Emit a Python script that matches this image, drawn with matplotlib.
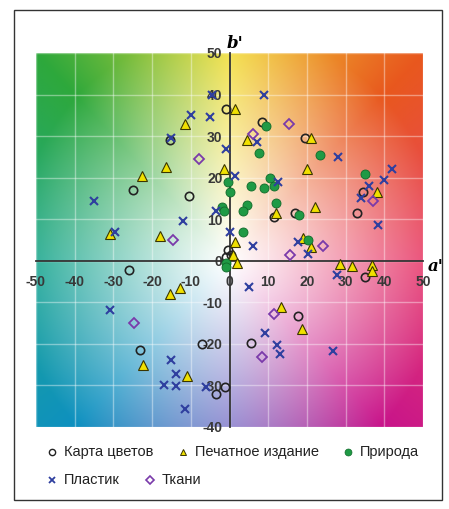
import numpy as np
import matplotlib.pyplot as plt
from matplotlib.colors import to_rgb
from matplotlib.patches import Rectangle

plt.rcParams['font.family'] = ['Liberation Sans', 'DejaVu Sans']
plt.rcParams['axes.unicode_minus'] = False

# Карта цветов (open circles)
chart_a = [-15.5, -25, -10.5, -1, 8.5, 19.5, 11.5, 17, 34.5, 33, -0.5, -1, 0.5,
           35, -26, 17.7, 5.6, -1.2, -3.6, -7, -23]
chart_b = [29, 17, 15.5, 36.5, 33.5, 29.5, 10.5, 11.5, 16.5, 11.5, 2.5, 1, 1.5,
           -3.8, -2.2, -13.2, -19.8, -30.4, -32, -20, -21.4]

# Печатное издание (yellow triangles)
print_a = [-11.5, -16.5, -22.5, -31, -18, 1.5, -1.5, 1.5, 4.5, 21, 20, 12, 22, 19, 21,
           38, 0.8, 2, 28.5, 31.7, 36.7, 36.7, 13.4, 18.8, -12.9, -15.4, -22.3, -10.9]
print_b = [33, 22.5, 20.5, 6.5, 6, 36.5, 22, 4.5, 29, 29.5, 22, 11.5, 13, 5.4, 3.4,
           16.5, 1.5, -0.5, -0.7, -1.2, -1, -2.4, -11.2, -16.4, -6.6, -8, -25.2, -27.8]

# Природа (green dots)
nature_a = [-0.5, 0, -2, -1.5, 3.5, 4.5, 3.5, 5.5, 9, 10.5, 11.5, 12, 7.5, 9.5,
            18, 20.3, 23.5, 35, -1, -0.8]
nature_b = [19, 16.5, 13, 12, 7, 13.5, 12, 18, 17.5, 20, 18, 14, 26, 32.5,
            11, 5, 25.5, 21, -0.5, -1.5]

# Пластик (crosses)
plastic_a = [-10, -15, -35, -12, -29.5, -4.5, -5, 9, -1, 1.5, -3.5, 0, 6, 12.5, 7,
             17.7, 20.3, 28, 42, 40, 36, 34, 38.5, 27.8, 26.7, 5, 9.3, 12.3, 13,
             -6.2, -31, -15, -13.7, -17, -13.8, -11.5]
plastic_b = [35, 29.5, 14.5, 9.5, 7, 40, 34.5, 40, 27, 20.5, 12, 7, 3.5, 19, 28.5,
             4.4, 1.7, 25, 22, 19.5, 18, 15, 8.5, -3.5, -21.6, -6.3, -17.4, -20.2, -22.4,
             -30.4, -11.8, -23.8, -27.2, -29.8, -30.2, -35.6]

# Ткани (open diamonds)
fabric_a = [-8, -14.5, 6, 15.5, 24.2, 15.6, 37, 11.6, 8.3, -24.7]
fabric_b = [24.5, 5, 30.5, 33, 3.6, 1.3, 14.5, -12.7, -23.2, -15]

labels = ['Карта цветов', 'Печатное издание', 'Природа', 'Пластик', 'Ткани']

fig = plt.figure(figsize=(4.49, 5.09), dpi=100)
ax = fig.add_axes([36 / 449, 1 - 427 / 509, 387 / 449, 374 / 509])

# background a'b' colour plane
aa, bb = np.meshgrid(np.linspace(-50, 50, 400), np.linspace(-40, 50, 360))
ang = np.degrees(np.arctan2(bb, aa)) % 360
hue_deg = [0, 45, 90, 135, 180, 225, 270, 315, 360]
hue_cols = np.array([to_rgb(c) for c in ['#e8406e', '#e8581e', '#f2de3a', '#2ea83c',
                                         '#1ea890', '#0e90c0', '#6a60c0', '#c8148a',
                                         '#e8406e']])
rgb = np.stack([np.interp(ang, hue_deg, hue_cols[:, k]) for k in range(3)], axis=-1)
t = np.clip(np.hypot(aa, bb) / 56, 0, 1) ** 1.1
img = 1 - t[..., None] * (1 - rgb)
ax.imshow(img, extent=(-50, 50, -40, 50), origin='lower', aspect='auto', zorder=0)

ax.set_xlim(-50, 50)
ax.set_ylim(-40, 50)
ax.set_xticks(range(-50, 51, 10))
ax.set_yticks(range(-40, 51, 10))
ax.set_axisbelow(True)
ax.grid(color='white', alpha=0.4, lw=1)

for s in ['top', 'right']:
    ax.spines[s].set_visible(False)
ax.spines['left'].set_position(('data', 0))
ax.spines['bottom'].set_position(('data', 0))
for s in ['left', 'bottom']:
    ax.spines[s].set_color('#333333')
    ax.spines[s].set_linewidth(1.3)
    ax.spines[s].set_zorder(1)
ax.tick_params(axis='x', length=0, pad=10, labelsize=10, labelcolor='#383838')
ax.tick_params(axis='y', length=0, pad=5, labelsize=10, labelcolor='#383838')
for lbl in ax.get_xticklabels() + ax.get_yticklabels():
    lbl.set_fontweight('bold')

ax.plot(chart_a, chart_b, 'o', ms=6, mfc='none', mec='#222222', mew=1.2, zorder=3)
ax.plot(print_a, print_b, '^', ms=7, mfc='#f0e000', mec='#3a3500', mew=0.8, zorder=3)
ax.plot(nature_a, nature_b, 'o', ms=6.5, mfc='#1f9a45', mec='#106a2a', mew=0.6, zorder=3)
ax.plot(plastic_a, plastic_b, 'x', ms=6, mec='#2f3f9f', mew=1.5, zorder=3)
ax.plot(fabric_a, fabric_b, 'D', ms=5.5, mfc='none', mec='#7a3aaa', mew=1.3, zorder=3)

ax.text(53.2, -1.3, "a'", fontsize=12, fontweight='bold', fontstyle='italic',
        family='DejaVu Serif', ha='center', va='center', clip_on=False)
ax.text(1.5, 52.3, "b'", fontsize=12, fontweight='bold', fontstyle='italic',
        family='DejaVu Serif', ha='center', va='center', clip_on=False)

# legend drawn manually in pixel space
lg = fig.add_axes([0, 0, 1, 1], frameon=False)
lg.set_xlim(0, 449)
lg.set_ylim(509, 0)
lg.axis('off')
styles = [dict(marker='o', ms=4.5, mfc='none', mec='#222222', mew=1),
          dict(marker='^', ms=5, mfc='#f0e000', mec='#3a3500', mew=0.7),
          dict(marker='o', ms=5, mfc='#1f9a45', mec='#106a2a', mew=0.5),
          dict(marker='x', ms=5, mec='#2f3f9f', mew=1.3),
          dict(marker='D', ms=4.5, mfc='none', mec='#7a3aaa', mew=1.2)]
slots = [(52, 452), (183, 452), (348, 452), (52, 480), (150, 480)]
for (x, y), st, name in zip(slots, styles, labels):
    lg.plot([x], [y], ls='none', **st)
    lg.text(x + 12, y, name, fontsize=10.5, color='#222222', va='center', ha='left')

fig.add_artist(Rectangle((14 / 449, 1 - 500 / 509), 428 / 449, 490 / 509,
                         transform=fig.transFigure, fill=False, ec='#333333', lw=1))

fig.savefig('out.png', dpi=100)
